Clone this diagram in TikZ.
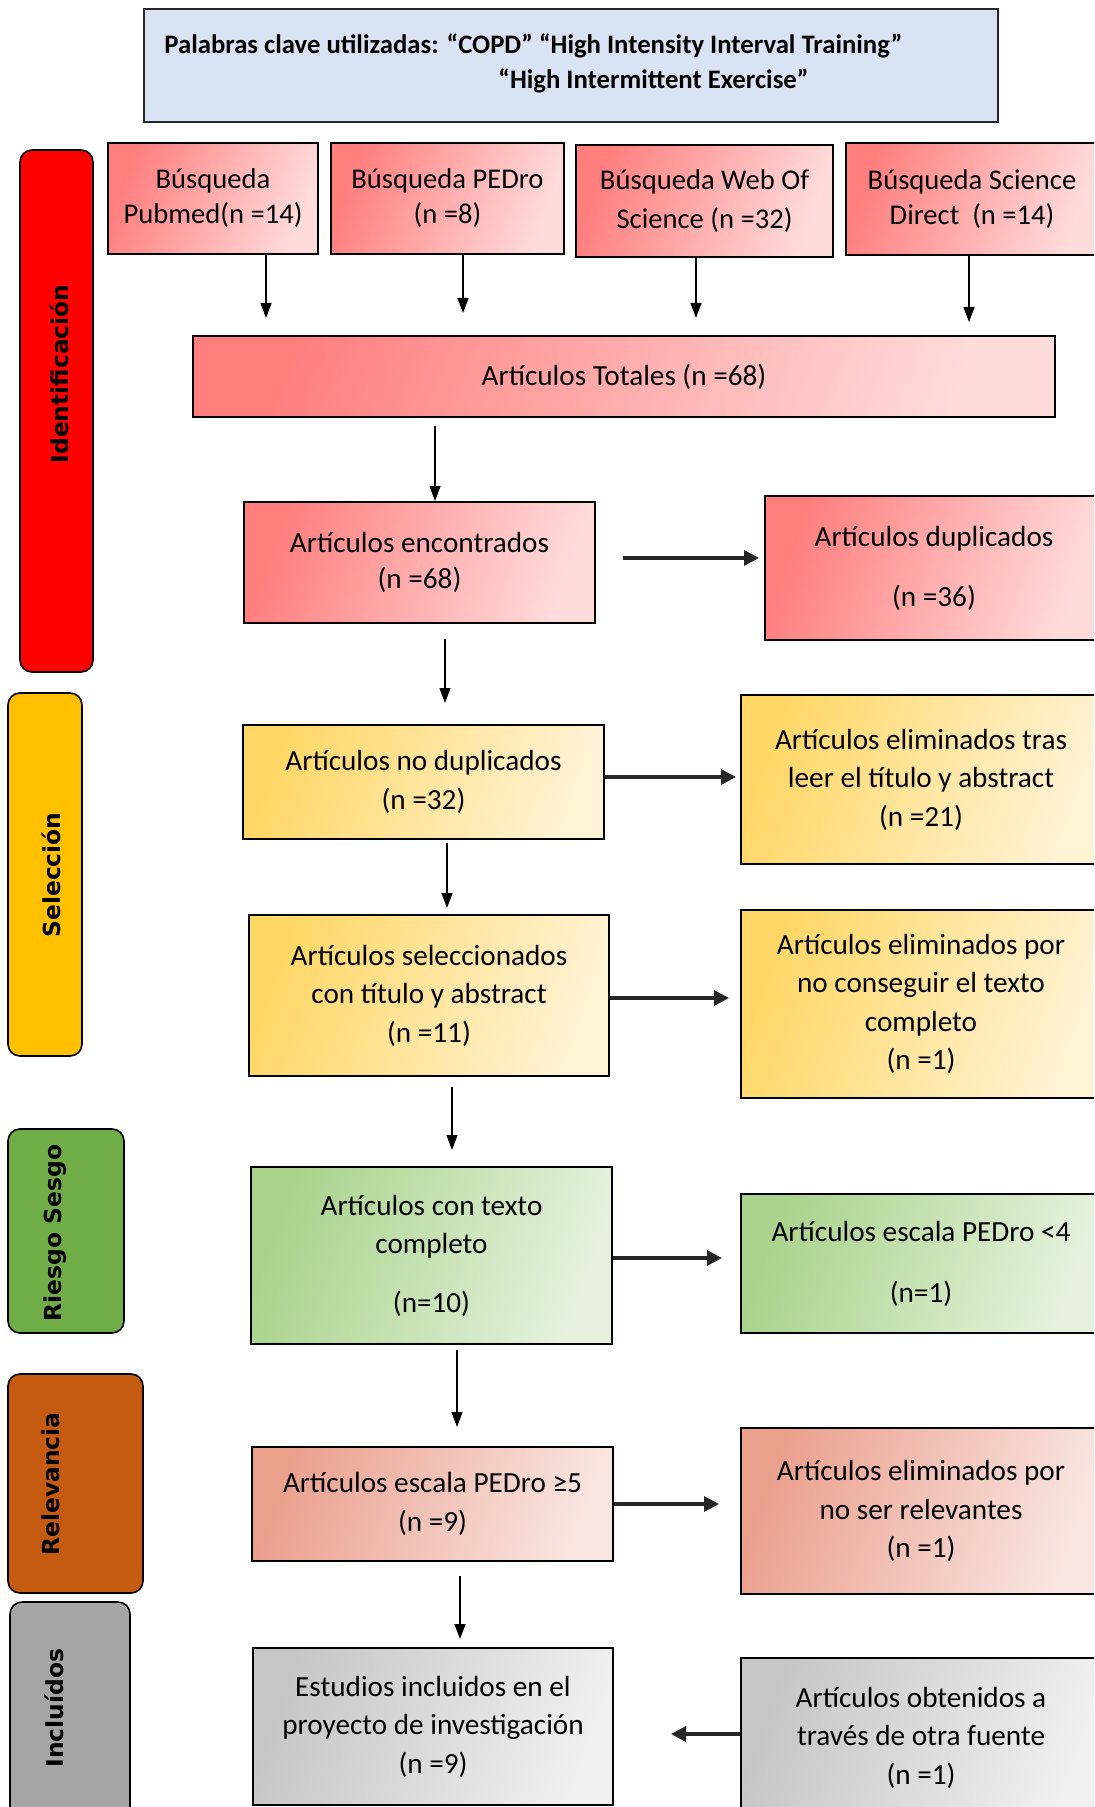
\documentclass[tikz,border=0pt]{standalone}
\usepackage{fontspec}
\setmainfont{Carlito}
\newfontfamily\lblfont{DejaVu Sans}
\usetikzlibrary{arrows.meta}
\definecolor{redA}{HTML}{FF7E7E}
\definecolor{redB}{HTML}{FFDCDC}
\definecolor{yelA}{HTML}{FFD766}
\definecolor{yelB}{HTML}{FFF3D6}
\definecolor{grnA}{HTML}{A9D38C}
\definecolor{grnB}{HTML}{E6F2DE}
\definecolor{salA}{HTML}{EBA08E}
\definecolor{salB}{HTML}{F9E6E2}
\definecolor{gryA}{HTML}{C6C6C6}
\definecolor{gryB}{HTML}{F0F0F0}
\definecolor{topfill}{HTML}{DAE3F3}
\definecolor{barRed}{HTML}{FF0000}
\definecolor{barYel}{HTML}{FFC000}
\definecolor{barGrn}{HTML}{70AD47}
\definecolor{barOra}{HTML}{C55A11}
\definecolor{barGry}{HTML}{A5A5A5}
\definecolor{arrgray}{HTML}{262626}
\begin{document}
\begin{tikzpicture}[x=0.5pt,y=-0.5pt,
  box/.style={draw=black, line width=1pt, inner sep=0pt, align=center,
    font=\fontsize{14.6pt}{19.25pt}\selectfont},
  redbox/.style={box, left color=redA, right color=redB, shading angle=70},
  yelbox/.style={box, left color=yelA, right color=yelB, shading angle=70},
  grnbox/.style={box, left color=grnA, right color=grnB, shading angle=70},
  salbox/.style={box, left color=salA, right color=salB, shading angle=70},
  grybox/.style={box, left color=gryA, right color=gryB, shading angle=70},
  srcbox/.style={redbox, font=\fontsize{14.3pt}{17.5pt}\selectfont},
  sidebar/.style={draw=black, line width=0.8pt, rounded corners=6pt, inner sep=0pt},
  sidelabel/.style={rotate=90, inner sep=0pt, font=\lblfont\bfseries\fontsize{11.7pt}{14pt}\selectfont},
  vthin/.style={-{Triangle[length=7.5pt,width=5.5pt]}, line width=0.6pt},
  hthick/.style={-{Triangle[length=7.5pt,width=7.5pt]}, line width=1.6pt, draw=arrgray, fill=arrgray},
  toptext/.style={inner sep=0pt, font=\bfseries\fontsize{13.35pt}{16pt}\selectfont}
]
\useasboundingbox (0,0) rectangle (1094,1807);
\clip (0,0) rectangle (1094,1807);

% keyword box
\node[draw=arrgray, line width=1.2pt, fill=topfill, minimum width=427pt, minimum height=56.5pt, inner sep=0pt] (kw) at (571,65.5) {};
\node[toptext, anchor=base west] (kw1) at (164,54) {Palabras clave utilizadas: “COPD” “High Intensity Interval Training”};
\node[toptext, anchor=base west] (kw2) at (498,89) {“High Intermittent Exercise”};

% side bars
\node[sidebar, fill=barRed, minimum width=36.5pt, minimum height=261pt] (sb1) at (56.5,411) {};
\node[sidebar, fill=barYel, minimum width=37pt, minimum height=181.5pt] (sb2) at (45,874.5) {};
\node[sidebar, fill=barGrn, minimum width=58pt, minimum height=102pt] (sb3) at (66,1231) {};
\node[sidebar, fill=barOra, minimum width=67.5pt, minimum height=109.5pt] (sb4) at (75.5,1483.5) {};
\node[sidebar, fill=barGry, minimum width=60pt, minimum height=114pt] (sb5) at (70,1716) {};
\node[sidelabel] (l1) at (59,374) {Identificación};
\node[sidelabel] (l2) at (51,875) {Selección};
\node[sidelabel] (l3) at (55,1233) {Riesgo Sesgo};
\node[sidelabel] (l4) at (51,1484) {Relevancia};
\node[sidelabel] (l5) at (54,1708) {Incluídos};

% search boxes
\node[srcbox, minimum width=105pt, minimum height=55.5pt] (b1) at (213,198.5) {Búsqueda\\Pubmed(n =14)};
\node[srcbox, minimum width=116.5pt, minimum height=55.5pt] (b2) at (447.5,198.5) {Búsqueda PEDro\\(n =8)};
\node[srcbox, minimum width=128.5pt, minimum height=56pt] (b3) at (704.5,201) {Búsqueda Web Of\\[2pt]Science (n =32)};
\node[srcbox, minimum width=126pt, minimum height=56pt] (b4) at (972,199) {Búsqueda Science\\Direct\ \ (n =14)};

\node[redbox, minimum width=431pt, minimum height=40.5pt] (tot) at (624,376.5) {Artículos Totales (n =68)};
\node[redbox, minimum width=175.5pt, minimum height=60.5pt] (enc) at (419.5,562.5) {Artículos encontrados\\[-1.25pt](n =68)};
\node[redbox, minimum width=169pt, minimum height=72pt] (dup) at (934,568) {Artículos duplicados\\[10.75pt](n =36)};

\node[yelbox, minimum width=180.5pt, minimum height=57pt] (nodup) at (423.5,782) {Artículos no duplicados\\(n =32)};
\node[yelbox, minimum width=180pt, minimum height=84.5pt] (elim1) at (921,779.5) {Artículos eliminados tras\\leer el título y abstract\\(n =21)};
\node[yelbox, minimum width=180pt, minimum height=80.5pt] (sel) at (429,995.5) {Artículos seleccionados\\con título y abstract\\(n =11)};
\node[yelbox, minimum width=180pt, minimum height=94pt] (elim2) at (921,1004) {Artículos eliminados por\\no conseguir el texto\\completo\\(n =1)};

\node[grnbox, minimum width=180.5pt, minimum height=88.5pt] (texto) at (431.5,1255.5) {Artículos con texto\\completo\\[10pt](n=10)};
\node[grnbox, minimum width=180pt, minimum height=69.5pt] (ped4) at (921,1263.5) {Artículos escala PEDro <4\\[11.25pt](n=1)};

\node[salbox, minimum width=180.5pt, minimum height=57pt] (ped5) at (432.5,1504) {Artículos escala PEDro ≥5\\(n =9)};
\node[salbox, minimum width=180pt, minimum height=83pt] (elim3) at (921,1511) {Artículos eliminados por\\no ser relevantes\\(n =1)};

\node[grybox, minimum width=180pt, minimum height=78.5pt] (est) at (433,1726.5) {Estudios incluidos en el\\proyecto de investigación\\(n =9)};
\node[grybox, minimum width=180pt, minimum height=79.5pt] (obt) at (921,1737.5) {Artículos obtenidos a\\través de otra fuente\\(n =1)};

% arrow end points
\coordinate (t1) at (266,318);
\coordinate (t2) at (463,313);
\coordinate (t3) at (696,318);
\coordinate (t4) at (969,322);
\coordinate (s5) at (435,426);
\coordinate (s6) at (445,639);
\coordinate (t6) at (445,703);
\coordinate (s7) at (447,843);
\coordinate (t7) at (447,908);
\coordinate (s8) at (452,1087);
\coordinate (t8) at (452,1150);
\coordinate (s9) at (457,1350);
\coordinate (t9) at (457,1427);
\coordinate (s10) at (460,1576);
\coordinate (t10) at (460,1639);
\coordinate (h1s) at (623,558);
\coordinate (h1t) at (759,558);
\coordinate (h2t) at (736,777);
\coordinate (h3t) at (729,998);
\coordinate (h4t) at (722,1258);
\coordinate (h5t) at (719,1504);
\coordinate (h6t) at (671,1734);

% vertical arrows
\draw[vthin] (b1.south -| t1) -- (t1);
\draw[vthin] (b2.south -| t2) -- (t2);
\draw[vthin] (b3.south -| t3) -- (t3);
\draw[vthin] (b4.south -| t4) -- (t4);
\draw[vthin] (s5) -- (s5 |- enc.north);
\draw[vthin] (s6) -- (t6);
\draw[vthin] (s7) -- (t7);
\draw[vthin] (s8) -- (t8);
\draw[vthin] (s9) -- (t9);
\draw[vthin] (s10) -- (t10);

% horizontal arrows
\draw[hthick] (h1s) -- (h1t);
\draw[hthick] (nodup.east |- h2t) -- (h2t);
\draw[hthick] (sel.east |- h3t) -- (h3t);
\draw[hthick] (texto.east |- h4t) -- (h4t);
\draw[hthick] (ped5.east |- h5t) -- (h5t);
\draw[hthick] (obt.west |- h6t) -- (h6t);
\end{tikzpicture}
\end{document}
